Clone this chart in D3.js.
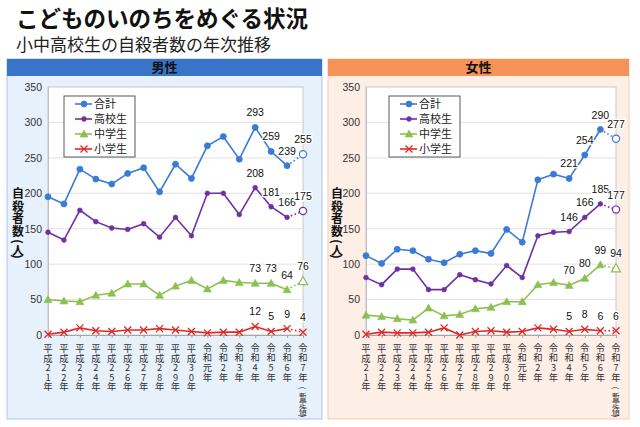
<!DOCTYPE html>
<html>
<head>
<meta charset="utf-8">
<script src="https://cdn.jsdelivr.net/npm/d3@7"></script>
<style>
html,body{margin:0;padding:0;background:#fff;}
svg{display:block;}
text{font-family:"Noto Sans CJK JP","Noto Sans",sans-serif;}
.num{font-family:"Liberation Sans",Arial,sans-serif;}
</style>
</head>
<body>
<svg id="chart" width="640" height="427"></svg>
<script>
// ---- data ----
const categories = ["平成21年","平成22年","平成23年","平成24年","平成25年","平成26年","平成27年","平成28年","平成29年","平成30年","令和元年","令和2年","令和3年","令和4年","令和5年","令和6年","令和7年"];
const lastNote = "暫定値";
const yTitle = "自殺者数";
const yTitleUnit = "人";
const seriesNames = ["合計","高校生","中学生","小学生"];
const yTicks = [0,50,100,150,200,250,300,350];

const maleTotal  = [195,185,234,220,213,228,236,202,241,221,267,280,248,293,259,239,255];
const maleHigh   = [145,134,176,160,151,149,157,138,166,140,200,200,170,208,181,166,175];
const maleMiddle = [50,48,47,56,59,72,72,56,69,77,65,77,74,73,73,64,76];
const maleElem   = [1,4,10,6,5,7,7,9,7,5,3,4,4,12,5,9,4];

const femaleTotal  = [112,101,121,119,107,102,114,119,115,149,131,219,227,221,254,290,277];
const femaleHigh   = [81,71,93,93,64,64,85,78,72,98,81,140,145,146,166,185,177];
const femaleMiddle = [28,26,23,21,38,27,29,37,39,47,47,71,74,70,80,99,94];
const femaleElem   = [1,4,3,3,4,10,0,5,6,4,5,10,8,5,8,6,6];

const colors = ["#3A7BD5","#7030A0","#8CC152","#E02828"];
const markers = ["circle","dot","triangle","cross"];

const svg = d3.select("#chart");

// title
svg.append("text").attr("x",16).attr("y",27).attr("font-size",22.5).attr("font-weight","bold").attr("fill","#111").text("こどものいのちをめぐる状況");
svg.append("text").attr("x",16).attr("y",51).attr("font-size",17).attr("fill","#222").text("小中高校生の自殺者数の年次推移");

function rotParen(g,ch,cx,cy,fs,bold){
  g.append("text").attr("x",cx).attr("y",cy).attr("font-size",fs)
    .attr("text-anchor","middle").attr("dominant-baseline","central")
    .attr("font-weight",bold?"bold":null).attr("fill","#111")
    .attr("transform",`rotate(90,${cx},${cy})`).text(ch);
}

function drawPanel(cfg){
  const g = svg.append("g");
  g.append("rect").attr("x",cfg.px).attr("y",59).attr("width",cfg.pw).attr("height",360)
    .attr("fill",cfg.bg).attr("stroke",cfg.border).attr("stroke-width",1);
  g.append("rect").attr("x",cfg.px).attr("y",59).attr("width",cfg.pw).attr("height",17).attr("fill",cfg.head);
  g.append("text").attr("x",cfg.px+cfg.pw/2).attr("y",72).attr("text-anchor","middle")
    .attr("font-size",13).attr("font-weight","bold").attr("fill","#111").text(cfg.title);

  const x = d3.scalePoint().domain(categories).range([cfg.x0,cfg.x1]);
  const y = d3.scaleLinear().domain([0,350]).range([335,87]);

  g.append("rect").attr("x",cfg.x0).attr("y",87).attr("width",cfg.x1-cfg.x0).attr("height",248)
    .attr("fill","#fff").attr("stroke","#c8c8c8");

  // grid
  g.append("g").selectAll("line").data(yTicks.filter(t=>t>0&&t<350)).join("line")
    .attr("x1",cfg.x0).attr("x2",cfg.x1).attr("y1",d=>y(d)).attr("y2",d=>y(d))
    .attr("stroke","#e2e2e2");

  // y axis
  const ya = g.append("g").attr("transform",`translate(${cfg.x0},0)`)
    .call(d3.axisLeft(y).tickValues(yTicks).tickSize(0).tickPadding(6));
  ya.select(".domain").attr("stroke","#bfbfbf");
  ya.selectAll("text").attr("class","num").attr("font-size",10.5).attr("fill","#333");

  // x axis
  const xa = g.append("g").attr("transform","translate(0,335)")
    .call(d3.axisBottom(x).tickSize(3).tickFormat(""));
  xa.select(".domain").attr("stroke","#a6a6a6");
  xa.selectAll(".tick line").attr("stroke","#a6a6a6");

  // vertical x labels (stacked characters)
  categories.forEach((c,i)=>{
    const chars = Array.from(c);
    const step = chars.length===4 ? 10.2 : 9.5;
    const y0 = chars.length===4 ? 346.5 : 348;
    const t = g.append("text").attr("font-size",9.3).attr("fill","#333")
      .attr("text-anchor","middle").attr("dominant-baseline","central");
    chars.forEach((ch,k)=>{
      t.append("tspan").attr("x",x(c)).attr("y",y0+k*step).text(ch);
    });
    if(i===categories.length-1){
      const nx = x(c);
      rotParen(g,"(",nx,388,7.8,false);
      const nt = g.append("text").attr("font-size",7.8).attr("fill","#333")
        .attr("text-anchor","middle").attr("dominant-baseline","central");
      Array.from(lastNote).forEach((ch,k)=>{
        nt.append("tspan").attr("x",nx).attr("y",395.5+k*7.6).text(ch);
      });
      rotParen(g,")",nx,416,7.8,false);
    }
  });

  // y title (stacked)
  const yt = g.append("text").attr("font-size",12).attr("font-weight","bold").attr("fill","#111")
    .attr("text-anchor","middle").attr("dominant-baseline","central");
  Array.from(yTitle).forEach((ch,k)=>{
    yt.append("tspan").attr("x",cfg.tx).attr("y",192+k*12.6).text(ch);
  });
  rotParen(g,"(",cfg.tx,241.5,12,true);
  g.append("text").attr("x",cfg.tx).attr("y",249).attr("font-size",12).attr("font-weight","bold")
    .attr("fill","#111").attr("text-anchor","middle").attr("dominant-baseline","central").text(yTitleUnit);
  rotParen(g,")",cfg.tx,256.5,12,true);

  // series
  const series = cfg.series;
  const n = categories.length;
  series.forEach((vals,si)=>{
    const col = colors[si];
    const line = d3.line().x((d,i)=>x(categories[i])).y(d=>y(d));
    g.append("path").datum(vals.slice(0,n-1)).attr("d",line)
      .attr("fill","none").attr("stroke",col).attr("stroke-width",1.6);
    g.append("path").attr("d",d3.line()([[x(categories[n-2]),y(vals[n-2])],[x(categories[n-1]),y(vals[n-1])]]))
      .attr("fill","none").attr("stroke",col).attr("stroke-width",1.6).attr("stroke-dasharray","1.6,2.4");
    vals.forEach((v,i)=>{
      drawMarker(g, markers[si], x(categories[i]), y(v), col, i===n-1);
    });
  });

  // labels for last 4 points
  series.forEach((vals,si)=>{
    vals.forEach((v,i)=>{
      if(i>=categories.length-4){
        g.append("text").attr("class","num").attr("x",x(categories[i])).attr("y",y(v)-11)
          .attr("text-anchor","middle").attr("font-size",10.5).attr("fill","#111")
          .attr("stroke","#fff").attr("stroke-width",2.5).attr("paint-order","stroke").text(v);
      }
    });
  });

  // legend
  const lg = g.append("g");
  lg.append("rect").attr("x",cfg.lx).attr("y",96).attr("width",71).attr("height",61)
    .attr("fill","#fff").attr("stroke","#595959").attr("stroke-width",1);
  seriesNames.forEach((nm,k)=>{
    const yy = 104 + k*15;
    lg.append("line").attr("x1",cfg.lx+11).attr("x2",cfg.lx+28).attr("y1",yy).attr("y2",yy)
      .attr("stroke",colors[k]).attr("stroke-width",1.6);
    drawMarker(lg, markers[k], cfg.lx+20, yy, colors[k], false);
    lg.append("text").attr("x",cfg.lx+30).attr("y",yy+4).attr("font-size",11).attr("fill","#222").text(nm);
  });
}

function drawMarker(g,type,cx,cy,col,hollow){
  const fill = hollow ? "#fff" : col;
  if(type==="circle"){
    g.append("circle").attr("cx",cx).attr("cy",cy).attr("r",hollow?3.6:3).attr("fill",fill).attr("stroke",col).attr("stroke-width",hollow?1.2:0.8);
  } else if(type==="dot"){
    g.append("circle").attr("cx",cx).attr("cy",cy).attr("r",hollow?3.6:2.4).attr("fill",fill).attr("stroke",col).attr("stroke-width",hollow?1.2:0.6);
  } else if(type==="triangle"){
    const s = hollow?4.6:4;
    g.append("path").attr("d",`M${cx},${cy-s}L${cx+s},${cy+s*0.75}L${cx-s},${cy+s*0.75}Z`)
      .attr("fill",fill).attr("stroke",col).attr("stroke-width",hollow?1.2:0.6);
  } else {
    const s = 3.5;
    g.append("path").attr("d",`M${cx-s},${cy-s}L${cx+s},${cy+s}M${cx-s},${cy+s}L${cx+s},${cy-s}`)
      .attr("stroke",col).attr("stroke-width",1.3).attr("fill","none");
  }
}

drawPanel({title:"男性",px:7,pw:315,bg:"#E7F1FC",border:"#A9C8EC",head:"#3A74C8",
  x0:48,x1:303,tx:18,lx:64,series:[maleTotal,maleHigh,maleMiddle,maleElem]});
drawPanel({title:"女性",px:328,pw:301,bg:"#FDEEE6",border:"#F6CDB4",head:"#F59359",
  x0:366,x1:616,tx:337,lx:389,series:[femaleTotal,femaleHigh,femaleMiddle,femaleElem]});
</script>
</body>
</html>
